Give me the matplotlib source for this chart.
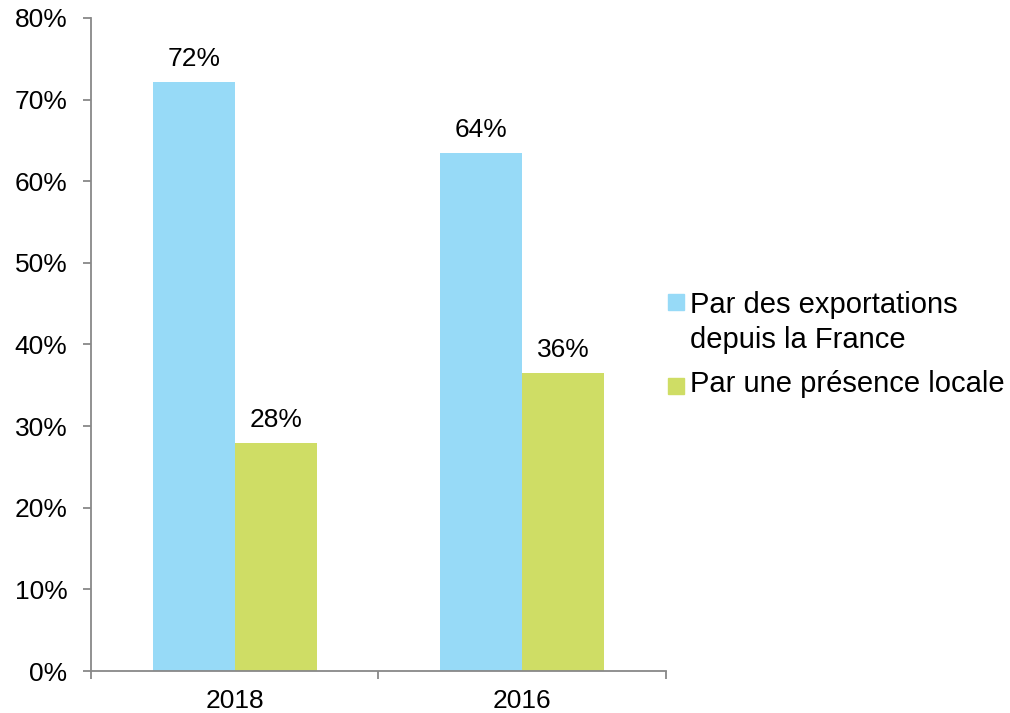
import matplotlib
matplotlib.use("Agg")
import matplotlib.pyplot as plt
from matplotlib.patches import Rectangle
from matplotlib.ticker import FuncFormatter, FixedLocator

plt.rcParams['font.family'] = ['Liberation Sans', 'DejaVu Sans']

categories = ["2018", "2016"]
series_names = ["Par des exportations\ndepuis la France", "Par une présence locale"]
exports = [72.2, 63.5]
local = [27.9, 36.5]
value_labels_exports = ["72%", "64%"]
value_labels_local = ["28%", "36%"]
colors = ["#97DAF7", "#CFDD65"]

FS = 19
fig = plt.figure(figsize=(10.10, 7.13), dpi=100)
ax = fig.add_axes([0.0901, 0.0589, 0.5693, 0.9159])

w = 0.285
x = list(range(len(categories)))
b1 = ax.bar([i - w / 2 for i in x], exports, width=w, color=colors[0])
b2 = ax.bar([i + w / 2 for i in x], local, width=w, color=colors[1])

for bars, labs in ((b1, value_labels_exports), (b2, value_labels_local)):
    for r, lab in zip(bars, labs):
        ax.annotate(lab, (r.get_x() + r.get_width() / 2, r.get_height()),
                    xytext=(0, 8), textcoords="offset points",
                    ha="center", va="bottom", fontsize=FS)

ax.set_xlim(-0.5, len(categories) - 0.5)
ax.set_ylim(0, 80)
ax.set_yticks(range(0, 81, 10))
ax.yaxis.set_major_formatter(FuncFormatter(lambda v, p: f"{int(v)}%"))
ax.set_xticks(x)
ax.set_xticklabels(categories)
ax.xaxis.set_minor_locator(FixedLocator([i - 0.5 for i in range(len(categories) + 1)]))

spine_col = "#888888"
for s in ("top", "right"):
    ax.spines[s].set_visible(False)
for s in ("left", "bottom"):
    ax.spines[s].set_color(spine_col)
    ax.spines[s].set_linewidth(1.3)
ax.tick_params(axis="y", length=6, width=1.3, color=spine_col, labelsize=FS, pad=11)
ax.tick_params(axis="x", which="major", length=0, labelsize=FS, pad=13)
ax.tick_params(axis="x", which="minor", length=6, width=1.3, color=spine_col)

# legend drawn manually (pixel positions within the figure)
H, W = 713, 1010
leg_square_centers = [302, 386]
leg_baselines = [313, 392]
line_step = 35
for name, col, yc, yb in zip(series_names, colors, leg_square_centers, leg_baselines):
    fig.patches.append(Rectangle((668 / W, 1 - (yc + 8) / H), 16 / W, 16 / H,
                                 transform=fig.transFigure, color=col, figure=fig))
    for k, line in enumerate(name.split("\n")):
        fig.text(690 / W, 1 - (yb + k * line_step) / H, line, ha="left",
                 va="baseline", fontsize=21)

fig.savefig("out.png", dpi=100)
